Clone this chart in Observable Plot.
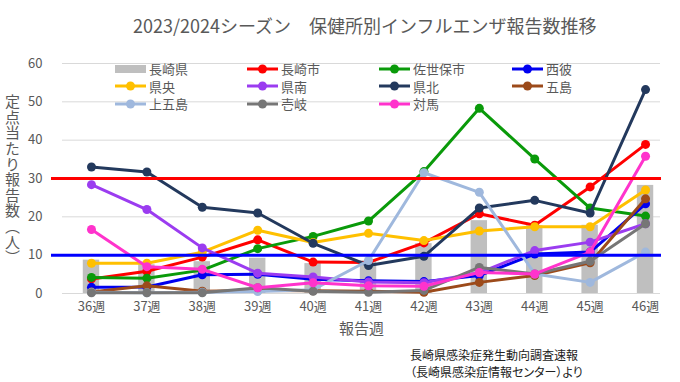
<!DOCTYPE html>
<html>
<head>
<meta charset="utf-8">
<script src="https://cdn.jsdelivr.net/npm/d3@7"></script>
<script src="https://cdn.jsdelivr.net/npm/@observablehq/plot@0.6"></script>
<style>
  body { margin: 0; background: #fff; font-family: "Noto Sans CJK JP", "Noto Sans", sans-serif; }
  #wrap { position: relative; width: 680px; height: 382px; overflow: hidden; }
  #title { position: absolute; top: 12px; left: 133px; font-size: 18px; color: #595959; white-space: nowrap; line-height: 26px; }
  #chart { position: absolute; top: 45px; left: 0; }
  #ylab { position: absolute; left: 4px; top: 94px; writing-mode: vertical-rl; font-size: 15px; color: #595959; letter-spacing: 0.6px; line-height: 16px; }
  #legend { position: absolute; left: 115px; top: 60px; display: grid; grid-template-columns: 132px 132px 133px 110px; grid-auto-rows: 17.5px; font-size: 13px; color: #595959; }
  .item { display: flex; align-items: center; white-space: nowrap; }
  .item svg { margin-right: 3px; flex: none; }
  #caption { position: absolute; left: 410px; top: 346px; font-size: 12px; line-height: 17px; color: #222; white-space: nowrap; font-feature-settings: "palt"; }
</style>
</head>
<body>
<div id="wrap">
  <div id="title"></div>
  <div id="chart"></div>
  <div id="ylab"></div>
  <div id="legend"></div>
  <div id="caption"></div>
</div>
<script>
// ---- data ----
const weeks = [36, 37, 38, 39, 40, 41, 42, 43, 44, 45, 46];
const yTicks = [0, 10, 20, 30, 40, 50, 60];
const refValues = [30, 10];
const refColors = ["#ff0000", "#0000ff"];

const prefName = "長崎県";
const prefValues = [8.7, 7.5, 8.3, 9.2, 7.8, 8.5, 13.0, 19.0, 17.7, 17.8, 28.2];

const seriesNames = ["長崎市", "佐世保市", "西彼", "県央", "県南", "県北", "五島", "上五島", "壱岐", "対馬"];
const seriesColors = ["#ff0000", "#0a9a0a", "#0000f0", "#ffc000", "#9b3cf0", "#23395d", "#9c4a1a", "#9fb8dd", "#767676", "#ff33cc"];
const nagasakiCity = [3.8, 5.8, 9.5, 14.0, 8.2, 8.1, 13.2, 20.8, 17.8, 27.8, 38.9];
const sasebo       = [4.2, 4.0, 6.1, 11.7, 14.9, 18.9, 31.8, 48.3, 35.1, 22.3, 20.2];
const seihi        = [1.6, 1.7, 4.9, 5.0, 3.7, 3.3, 3.1, 4.7, 10.3, 10.8, 23.4];
const kenou        = [7.9, 7.9, 10.8, 16.5, 13.3, 15.7, 13.8, 16.3, 17.4, 17.4, 27.0];
const kennan       = [28.4, 21.9, 11.9, 5.3, 4.3, 3.0, 2.8, 5.4, 11.2, 13.4, 18.2];
const kenhoku      = [33.0, 31.7, 22.5, 21.0, 13.1, 7.3, 9.7, 22.3, 24.3, 21.0, 53.2];
const goto         = [0.4, 2.0, 0.6, 0.8, 0.7, 0.6, 0.3, 2.9, 4.7, 8.0, 24.7];
const kamigoto     = [0.3, 0.2, 0.3, 0.5, 1.0, 8.6, 31.5, 26.4, 5.1, 2.9, 10.8];
const iki          = [0.2, 0.2, 0.2, 1.5, 0.6, 0.3, 0.8, 6.8, 5.1, 8.4, 18.2];
const tsushima     = [16.7, 7.0, 6.3, 1.5, 2.8, 2.0, 1.9, 5.5, 5.1, 10.8, 35.8];
const seriesValues = [nagasakiCity, sasebo, seihi, kenou, kennan, kenhoku, goto, kamigoto, iki, tsushima];

const titleText = "2023/2024シーズン　保健所別インフルエンザ報告数推移";
const yLabel = "定点当たり報告数（人）";
const xLabel = "報告週";
const captionLines = ["長崎県感染症発生動向調査速報", "（長崎県感染症情報センター）より"];

// ---- build ----
const prefData = weeks.map((w, i) => ({week: w, value: prefValues[i]}));
const seriesData = seriesNames.map((name, k) => weeks.map((w, i) => ({week: w, value: seriesValues[k][i], name})));

const marks = [
  Plot.ruleY(yTicks, {stroke: "#d9d9d9", strokeWidth: 1}),
  Plot.rectY(prefData, {x1: d => d.week - 0.5, x2: d => d.week + 0.5, y: "value", fill: "#bfbfbf", insetLeft: 19.5, insetRight: 19.5})
];
seriesData.forEach((data, k) => {
  marks.push(Plot.line(data, {x: "week", y: "value", stroke: seriesColors[k], strokeWidth: 3}));
  marks.push(Plot.dot(data, {x: "week", y: "value", fill: seriesColors[k], r: 4.5}));
});
refValues.forEach((v, k) => {
  marks.push(Plot.ruleY([v], {stroke: refColors[k], strokeWidth: 3, insetLeft: -11, insetRight: -1}));
});
marks.push(Plot.text([xLabel], {frameAnchor: "bottom", dy: 40, fontSize: 15, fill: "#595959"}));

const chart = Plot.plot({
  width: 680,
  height: 300,
  marginLeft: 62,
  marginRight: 20,
  marginTop: 18,
  marginBottom: 52,
  style: {fontFamily: "'Noto Sans CJK JP', sans-serif", fontSize: "13px", color: "#595959", background: "transparent", overflow: "visible"},
  x: {type: "linear", domain: [35.477, 46.27], ticks: weeks, tickFormat: d => d + "週", tickSize: 0, tickPadding: 8, label: null},
  y: {domain: [0, 60], ticks: yTicks, tickSize: 0, tickPadding: 20, label: null},
  marks
});
document.getElementById("chart").appendChild(chart);

document.getElementById("title").textContent = titleText;
document.getElementById("ylab").textContent = yLabel;
document.getElementById("caption").innerHTML = captionLines.join("<br>");

// legend
const legend = document.getElementById("legend");
const legendOrder = [prefName, ...seriesNames];
const ns = "http://www.w3.org/2000/svg";
legendOrder.forEach((name, idx) => {
  const item = document.createElement("div");
  item.className = "item";
  const sw = document.createElementNS(ns, "svg");
  sw.setAttribute("width", 31);
  sw.setAttribute("height", 12);
  if (idx === 0) {
    const r = document.createElementNS(ns, "rect");
    r.setAttribute("x", 0); r.setAttribute("y", 2); r.setAttribute("width", 31); r.setAttribute("height", 8);
    r.setAttribute("fill", "#bfbfbf");
    sw.appendChild(r);
  } else {
    const c = seriesColors[idx - 1];
    const l = document.createElementNS(ns, "line");
    l.setAttribute("x1", 0); l.setAttribute("x2", 31); l.setAttribute("y1", 6); l.setAttribute("y2", 6);
    l.setAttribute("stroke", c); l.setAttribute("stroke-width", 3);
    const ci = document.createElementNS(ns, "circle");
    ci.setAttribute("cx", 15.5); ci.setAttribute("cy", 6); ci.setAttribute("r", 4.5); ci.setAttribute("fill", c);
    sw.appendChild(l); sw.appendChild(ci);
  }
  item.appendChild(sw);
  const t = document.createElement("span");
  t.textContent = name;
  item.appendChild(t);
  legend.appendChild(item);
});
</script>
</body>
</html>
